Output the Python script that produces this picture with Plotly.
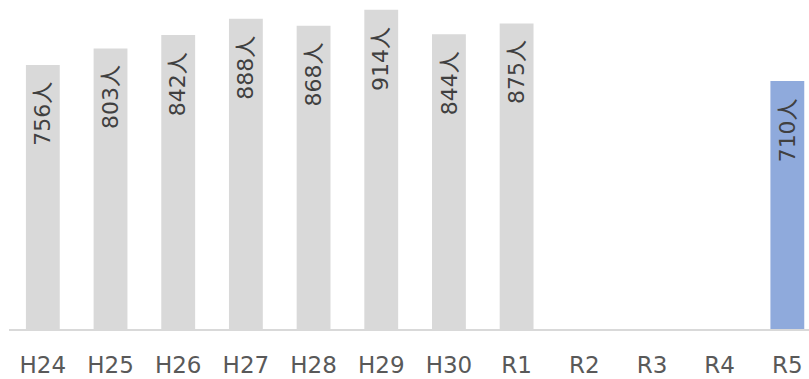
import plotly.graph_objects as go

categories = ["H24", "H25", "H26", "H27", "H28", "H29", "H30", "R1", "R2", "R3", "R4", "R5"]
values = [756, 803, 842, 888, 868, 914, 844, 875, None, None, None, 710]
unit = "人"

gray = "#d9d9d9"
blue = "#8faadc"
colors = [blue if c == "R5" else gray for c in categories]
FONT = "DejaVu Sans, Noto Sans CJK JP"

fig = go.Figure(go.Bar(
    x=categories,
    y=values,
    marker=dict(color=colors, line=dict(width=0)),
    hoverinfo="skip",
))

for c, v in zip(categories, values):
    if v is None:
        continue
    fig.add_annotation(
        x=c, y=v, xref="x", yref="y",
        text=f"{v}{unit}",
        textangle=-90,
        showarrow=False,
        xanchor="center", yanchor="top",
        yshift=-15,
        font=dict(family=FONT, size=22, color="#404040"),
    )

fig.update_layout(
    width=809, height=379,
    margin=dict(l=9, r=0, t=0, b=50),
    paper_bgcolor="white", plot_bgcolor="white",
    bargap=0.5,
    showlegend=False,
    font=dict(family=FONT, color="#595959"),
)
fig.update_xaxes(
    range=[-0.5, 11.32],
    showline=True, linecolor="#d9d9d9", linewidth=2,
    showgrid=False, ticks="",
    tickfont=dict(family=FONT, size=23, color="#595959"),
    ticklabelstandoff=14,
)
fig.update_yaxes(range=[0, 942], visible=False, showgrid=False)

fig.write_html("out.html")
